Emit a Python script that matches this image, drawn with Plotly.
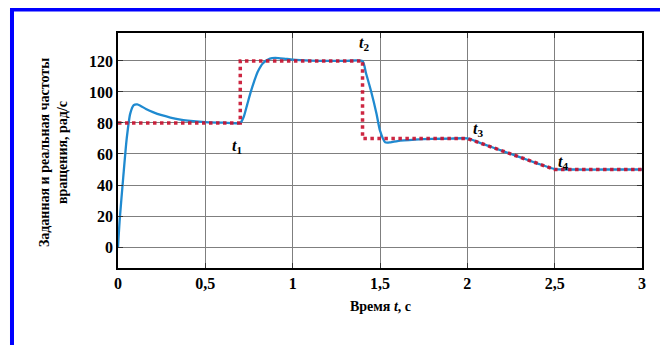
import plotly.graph_objects as go

# Reference (setpoint) speed, rad/s
ref_t = [0, 0.7, 0.7, 1.4, 1.4, 2.0, 2.5, 3.0]
ref_w = [80, 80, 120, 120, 70, 70, 50, 50]

# Actual speed, rad/s
act_t = [0, 0.01, 0.03, 0.05, 0.07, 0.09, 0.11, 0.13, 0.16, 0.2, 0.25, 0.3, 0.35, 0.4,
         0.5, 0.6, 0.7, 0.72, 0.74, 0.76, 0.78, 0.8, 0.83, 0.87, 0.9, 0.95, 1.0, 1.1,
         1.2, 1.3, 1.4, 1.42, 1.45, 1.48, 1.5, 1.53, 1.56, 1.6, 1.7, 1.8, 1.9, 2.0,
         2.1, 2.2, 2.3, 2.4, 2.5, 2.6, 2.8, 3.0]
act_w = [0, 18, 45, 70, 86, 91.5, 92, 91, 89, 87, 85, 83.5, 82.3, 81.5,
         80.6, 80.2, 80, 84, 92, 100, 107, 113, 118.5, 121.5, 122, 121.5, 120.8, 120.2,
         120, 120, 119.8, 112, 100, 86, 75, 67.5, 67.5, 68.3, 69.2, 69.7, 69.9, 70,
         66, 62, 58, 54, 50.3, 50, 50, 50]

x_ticks = [0, 0.5, 1, 1.5, 2, 2.5, 3]
x_labels = ["0", "0,5", "1", "1,5", "2", "2,5", "3"]
y_ticks = [0, 20, 40, 60, 80, 100, 120]
y_labels = ["0", "20", "40", "60", "80", "100", "120"]

marks = [("1", 0.68, 65), ("2", 1.41, 131), ("3", 2.06, 75.5), ("4", 2.55, 54.5)]

FONT = "Liberation Serif"

fig = go.Figure()
fig.add_trace(go.Scatter(x=act_t, y=act_w, mode="lines",
                         line=dict(color="#1f8ad0", width=2.3, shape="spline", smoothing=0.6),
                         showlegend=False))
fig.add_trace(go.Scatter(x=ref_t, y=ref_w, mode="lines",
                         line=dict(color="#c8102e", width=3.5, dash="dot"),
                         opacity=0.9, showlegend=False))

for n, tx, ty in marks:
    fig.add_annotation(x=tx, y=ty, text=f"<b><i>t</i><sub>{n}</sub></b>", showarrow=False,
                       font=dict(family=FONT, size=16, color="black"))

axis_common = dict(showline=True, linecolor="black", linewidth=1.5, mirror="ticks",
                   showgrid=True, gridcolor="#7f7f7f", gridwidth=1,
                   ticks="inside", ticklen=5, tickcolor="#333", zeroline=False,
                   tickfont=dict(family=FONT, size=16, color="black"))

fig.update_xaxes(range=[0, 3], tickvals=x_ticks,
                 ticktext=[f"<b>{s}</b>" for s in x_labels], **axis_common)
fig.update_yaxes(range=[-13.5, 138], tickvals=y_ticks,
                 ticktext=[f"<b>{s}</b>" for s in y_labels], **axis_common)

fig.add_annotation(xref="paper", yref="paper", x=0.5, y=-0.162, xanchor="center", yanchor="middle",
                   text="<b>Время <i>t</i>, с</b>",
                   showarrow=False, font=dict(family=FONT, size=14, color="black"))
fig.add_annotation(xref="paper", yref="paper", x=-0.124, y=0.489, xanchor="center", yanchor="middle",
                   textangle=-90,
                   text="<b>Заданная и реальная частоты<br>вращения, рад/с</b>",
                   showarrow=False, font=dict(family=FONT, size=14, color="black"))

# blue frame around the figure
fig.add_shape(type="rect", xref="paper", yref="paper", x0=-0.2023, x1=1.0439, y0=1.1, y1=-0.4,
              line=dict(color="#0000ff", width=4), fillcolor="rgba(0,0,0,0)", layer="below")

fig.update_layout(width=660, height=337, margin=dict(l=110, r=26, t=25, b=77),
                  plot_bgcolor="white", paper_bgcolor="white")

fig.write_html("out.html")
